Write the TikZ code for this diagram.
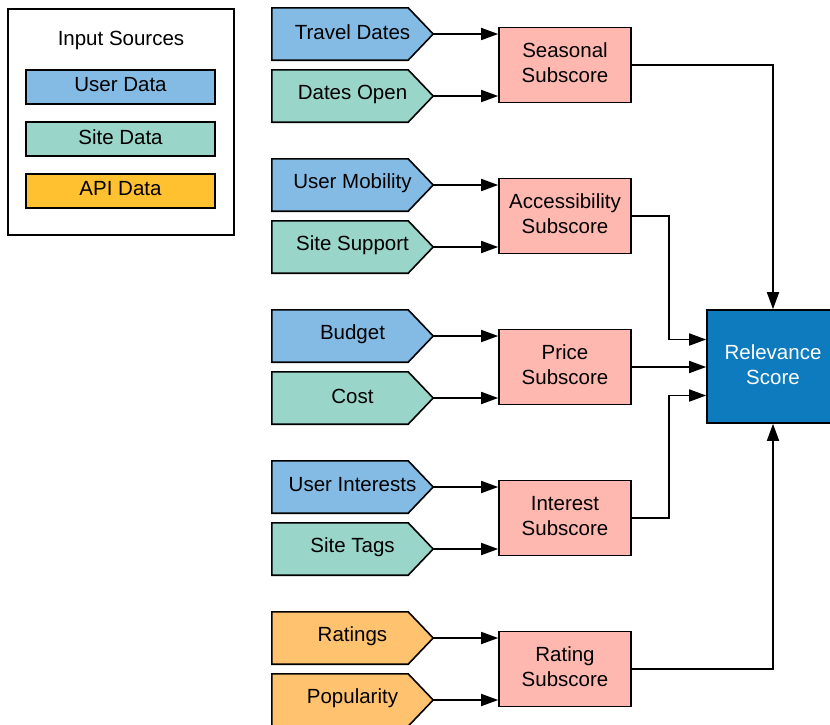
\documentclass[tikz,border=0pt]{standalone}
\usepackage{fontspec}
\setmainfont{Liberation Sans}
\usetikzlibrary{arrows.meta}

\definecolor{userblue}{HTML}{83BBE5}
\definecolor{siteteal}{HTML}{9AD5C9}
\definecolor{apiyellow}{HTML}{FFC12F}
\definecolor{apiorange}{HTML}{FFC26E}
\definecolor{subpink}{HTML}{FFB8B0}
\definecolor{scoreblue}{HTML}{0E7BBE}

\tikzset{
  basefont/.style={font=\fontsize{20.5}{25}\selectfont, align=center},
  legendbox/.style={draw, line width=1.6pt, minimum width=189pt, minimum height=34pt, inner sep=0pt},
  srcbox/.style={minimum width=161pt, minimum height=52pt, inner sep=0pt},
  subbox/.style={draw, fill=subpink, line width=1.6pt, minimum width=132pt, minimum height=75pt, inner sep=0pt},
  scorebox/.style={draw, fill=scoreblue, line width=1.6pt, minimum width=132pt, minimum height=113pt, inner sep=0pt},
  link/.style={line width=1.7pt, -{Triangle[length=17pt,width=12pt]}},
}

\begin{document}
\begin{tikzpicture}[x=1pt, y=-1pt]
\useasboundingbox (0,0) rectangle (830,724);

% legend
\node[draw, line width=1.6pt, minimum width=226pt, minimum height=226pt, inner sep=0pt] (legend) at (121,122) {};
\node[basefont] (legendtitle) at (121,40.5) {Input Sources};
\foreach \n/\y/\t/\c in {lguser/87/User Data/userblue, lgsite/139/Site Data/siteteal, lgapi/191/API Data/apiyellow}{
  \node[legendbox, fill=\c] (\n) at (120.5,\y) {};
  \node[basefont] at ([yshift=2pt]\n) {\t};
}

% input sources: name / y centre / label / colour
\foreach \n/\y/\t/\c in {
  td/34/Travel Dates/userblue, dop/96/Dates Open/siteteal,
  um/185/User Mobility/userblue, ss/247/Site Support/siteteal,
  bu/336/Budget/userblue, co/398/Cost/siteteal,
  ui/487/User Interests/userblue, st/549/Site Tags/siteteal,
  ra/638/Ratings/apiorange, po/700/Popularity/apiorange}{
  \node[srcbox] (\n) at (352.5,\y) {};
  \draw[line width=1.6pt, fill=\c] (\n.north west) -- ([xshift=-25pt]\n.north east) -- (\n.east)
    -- ([xshift=-25pt]\n.south east) -- (\n.south west) -- cycle;
  \node[basefont] at ([yshift=2pt]\n) {\t};
}

% subscores
\foreach \n/\y/\t in {sea/65/Seasonal, acc/216/Accessibility, pri/367/Price, int/518/Interest, rat/669/Rating}{
  \node[subbox] (\n) at (565,\y) {};
  \node[basefont] at ([yshift=2pt]\n) {\t\\Subscore};
}

% final score
\node[scorebox] (rel) at (773,366.5) {};
\node[basefont, text=white] at ([yshift=2pt]rel) {Relevance\\Score};

% inputs to subscores
\draw[link] (td.east) -- (td.east -| sea.west);
\draw[link] (dop.east) -- (dop.east -| sea.west);
\draw[link] (um.east) -- (um.east -| acc.west);
\draw[link] (ss.east) -- (ss.east -| acc.west);
\draw[link] (bu.east) -- (bu.east -| pri.west);
\draw[link] (co.east) -- (co.east -| pri.west);
\draw[link] (ui.east) -- (ui.east -| int.west);
\draw[link] (st.east) -- (st.east -| int.west);
\draw[link] (ra.east) -- (ra.east -| rat.west);
\draw[link] (po.east) -- (po.east -| rat.west);

% subscores to relevance
\coordinate (accin) at ([yshift=27pt]rel.west);
\coordinate (intin) at ([yshift=-29pt]rel.west);
\draw[link] (sea.east) -| (rel.north);
\draw[link] (acc.east) -- (669,216) |- (accin);
\draw[link] (pri.east) -- (pri.east -| rel.west);
\draw[link] (int.east) -- (669,518) |- (intin);
\draw[link] (rat.east) -| (rel.south);
\end{tikzpicture}
\end{document}
